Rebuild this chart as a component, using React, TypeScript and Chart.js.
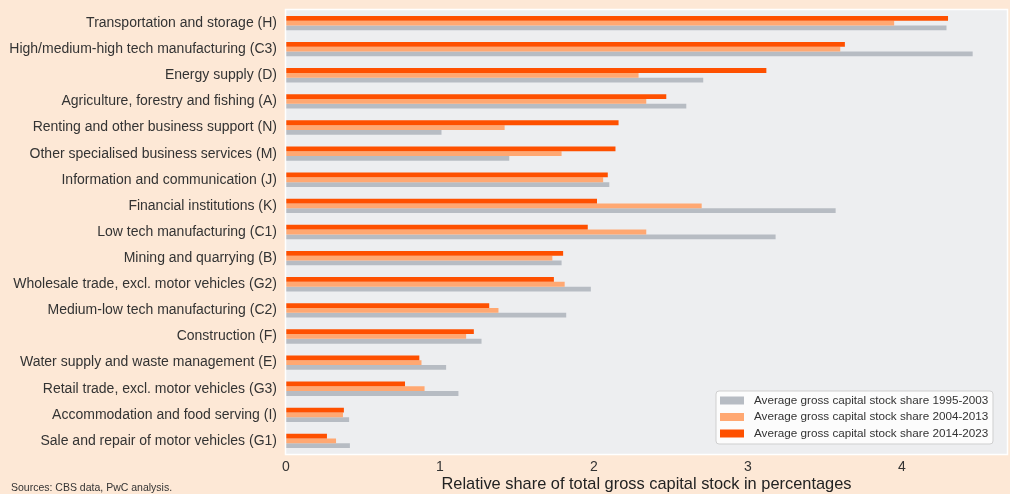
import React, { useEffect, useRef } from "react";
import { Chart, registerables } from "chart.js";

Chart.register(...registerables);

const categories = [
  "Transportation and storage (H)",
  "High/medium-high tech manufacturing (C3)",
  "Energy supply (D)",
  "Agriculture, forestry and fishing (A)",
  "Renting and other business support (N)",
  "Other specialised business services (M)",
  "Information and communication (J)",
  "Financial institutions (K)",
  "Low tech manufacturing (C1)",
  "Mining and quarrying (B)",
  "Wholesale trade, excl. motor vehicles (G2)",
  "Medium-low tech manufacturing (C2)",
  "Construction (F)",
  "Water supply and waste management (E)",
  "Retail trade, excl. motor vehicles (G3)",
  "Accommodation and food serving (I)",
  "Sale and repair of motor vehicles (G1)",
];

const share1995to2003 = [4.29, 4.46, 2.71, 2.6, 1.01, 1.45, 2.1, 3.57, 3.18, 1.79, 1.98, 1.82, 1.27, 1.04, 1.12, 0.41, 0.415];
const share2004to2013 = [3.95, 3.6, 2.29, 2.34, 1.42, 1.79, 2.06, 2.7, 2.34, 1.73, 1.81, 1.38, 1.17, 0.88, 0.9, 0.37, 0.325];
const share2014to2023 = [4.3, 3.63, 3.12, 2.47, 2.16, 2.14, 2.09, 2.02, 1.96, 1.8, 1.74, 1.32, 1.22, 0.866, 0.773, 0.376, 0.266];

const xTicks = [0, 1, 2, 3, 4];

const seriesLabels = [
  "Average gross capital stock share 1995-2003",
  "Average gross capital stock share 2004-2013",
  "Average gross capital stock share 2014-2023",
];

const GREY = "#B7BCC3";
const LIGHT = "#FFA872";
const ORANGE = "#FE5000";
const PAGE_BG = "#FDE8D6";
const PLOT_BG = "#EDEEF0";
const TEXT = "#333333";
const FONT = "'Liberation Sans', Arial, sans-serif";

// Plot background, white frame, inner legend and source note
const decorPlugin = {
  id: "decor",
  beforeDraw(chart: any) {
    const { ctx, chartArea: a } = chart;
    ctx.save();
    ctx.fillStyle = PAGE_BG;
    ctx.fillRect(0, 0, chart.width, chart.height);
    ctx.fillStyle = PLOT_BG;
    ctx.fillRect(a.left, a.top, a.right - a.left, a.bottom - a.top);
    ctx.restore();
  },
  afterDraw(chart: any) {
    const { ctx, chartArea: a } = chart;
    ctx.save();
    ctx.strokeStyle = "#FFFFFF";
    ctx.lineWidth = 1.5;
    ctx.strokeRect(a.left - 0.5, a.top - 0.5, a.right - a.left + 1, a.bottom - a.top + 1);

    // legend box
    const boxW = 277;
    const boxH = 53;
    const bx = a.right - 14 - boxW;
    const by = a.bottom - 10 - boxH;
    const r = 3;
    ctx.beginPath();
    ctx.moveTo(bx + r, by);
    ctx.lineTo(bx + boxW - r, by);
    ctx.quadraticCurveTo(bx + boxW, by, bx + boxW, by + r);
    ctx.lineTo(bx + boxW, by + boxH - r);
    ctx.quadraticCurveTo(bx + boxW, by + boxH, bx + boxW - r, by + boxH);
    ctx.lineTo(bx + r, by + boxH);
    ctx.quadraticCurveTo(bx, by + boxH, bx, by + boxH - r);
    ctx.lineTo(bx, by + r);
    ctx.quadraticCurveTo(bx, by, bx + r, by);
    ctx.closePath();
    ctx.fillStyle = "rgba(255,255,255,0.8)";
    ctx.fill();
    ctx.strokeStyle = "#CFCFCF";
    ctx.lineWidth = 1;
    ctx.stroke();

    const colors = [GREY, LIGHT, ORANGE];
    ctx.font = `11.7px ${FONT}`;
    ctx.textBaseline = "middle";
    ctx.textAlign = "left";
    seriesLabels.forEach((label, i) => {
      const cy = by + 9.5 + i * 16.5;
      ctx.fillStyle = colors[i];
      ctx.fillRect(bx + 4, cy - 4, 24, 8);
      ctx.fillStyle = TEXT;
      ctx.fillText(label, bx + 38, cy);
    });

    ctx.font = `10.5px ${FONT}`;
    ctx.fillStyle = TEXT;
    ctx.textBaseline = "middle";
    ctx.fillText("Sources: CBS data, PwC analysis.", 11, 488);
    ctx.restore();
  },
};

export default function App() {
  const canvasRef = useRef<HTMLCanvasElement | null>(null);

  useEffect(() => {
    const canvas = canvasRef.current;
    if (!canvas) return;
    const chart = new Chart(canvas, {
      type: "bar",
      data: {
        labels: categories,
        datasets: [
          { label: seriesLabels[2], data: share2014to2023, backgroundColor: ORANGE },
          { label: seriesLabels[1], data: share2004to2013, backgroundColor: LIGHT },
          { label: seriesLabels[0], data: share1995to2003, backgroundColor: GREY },
        ],
      },
      options: {
        indexAxis: "y",
        animation: false,
        responsive: false,
        events: [],
        layout: { padding: { top: 10, right: 3, left: 0, bottom: 0 } },
        datasets: {
          bar: { categoryPercentage: 0.55, barPercentage: 1.0 },
        },
        plugins: {
          legend: { display: false },
          tooltip: { enabled: false },
        },
        scales: {
          x: {
            min: 0,
            max: 4.683,
            afterBuildTicks(scale: any) {
              scale.ticks = xTicks.map((v) => ({ value: v }));
            },
            afterFit(scale: any) {
              scale.height = 40;
              scale.paddingLeft = 0;
              scale.paddingRight = 0;
            },
            grid: { display: false, drawTicks: false },
            border: { display: false },
            ticks: {
              color: TEXT,
              font: { family: FONT, size: 14 },
              padding: 5,
              maxRotation: 0,
              callback: (v: any) => String(v),
            },
            title: {
              display: true,
              text: "Relative share of total gross capital stock in percentages",
              color: "#222222",
              font: { family: FONT, size: 16.4 },
              padding: { top: 0, bottom: 0 },
            },
          },
          y: {
            afterFit(scale: any) {
              scale.width = 286;
              scale.paddingTop = 0;
              scale.paddingBottom = 0;
            },
            grid: { display: false, drawTicks: false },
            border: { display: false },
            ticks: {
              color: TEXT,
              font: { family: FONT, size: 14 },
              padding: 9,
              autoSkip: false,
            },
          },
        },
      },
      plugins: [decorPlugin],
    } as any);
    return () => chart.destroy();
  }, []);

  return (
    <div style={{ position: "absolute", left: 0, top: 0, width: 1010, height: 494, background: PAGE_BG }}>
      <canvas ref={canvasRef} width={1010} height={494} style={{ display: "block" }} />
    </div>
  );
}
